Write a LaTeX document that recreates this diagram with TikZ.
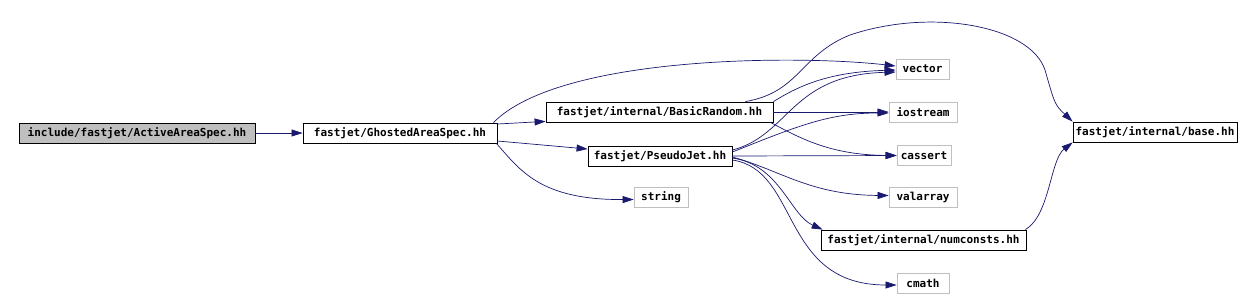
\documentclass[tikz,border=0pt]{standalone}
\usepackage{fontspec}
\setmonofont{DejaVu Sans Mono}
\usetikzlibrary{arrows.meta}
\definecolor{edg}{HTML}{191970}
\definecolor{sysg}{HTML}{BFBFBF}
\tikzset{
  hdr/.style={draw=black,line width=0.8pt,minimum height=20pt,inner sep=1pt,font=\fontsize{11}{12}\ttfamily\bfseries},
  sys/.style={hdr,draw=sysg},
  root/.style={hdr,fill=sysg},
  ar/.style={-{Triangle[length=11pt,width=7pt]},line width=0.7pt,draw=edg},
}
\begin{document}
\begin{tikzpicture}[x=1pt,y=-1pt]
  \useasboundingbox[fill=white] (0,0) rectangle (1252,298);
  \node[root, minimum width=236pt] (act) at (137,133) {include/fastjet/ActiveAreaSpec.hh};
  \node[hdr, minimum width=194pt] (gas) at (400,133) {fastjet/GhostedAreaSpec.hh};
  \node[hdr, minimum width=227pt] (brn) at (659.5,112) {fastjet/internal/BasicRandom.hh};
  \node[hdr, minimum width=144pt] (pj) at (660,156) {fastjet/PseudoJet.hh};
  \node[sys, minimum width=53pt] (vec) at (922.5,69) {vector};
  \node[sys, minimum width=68pt] (ios) at (923,112) {iostream};
  \node[sys, minimum width=54pt] (cas) at (924,155.5) {cassert};
  \node[sys, minimum width=68pt] (val) at (923,197.5) {valarray};
  \node[sys, minimum width=54pt] (str) at (661,197.5) {string};
  \node[hdr, minimum width=205pt] (nc) at (923.5,240) {fastjet/internal/numconsts.hh};
  \node[sys, minimum width=52pt] (cm) at (923,283) {cmath};
  \node[hdr, minimum width=164pt] (base) at (1155,132) {fastjet/internal/base.hh};

  \draw[ar] (act.east) -- (gas.west);
  \draw[ar] ([yshift=9pt]gas.east) -- ([yshift=1pt]brn.south west);
  \draw[ar] ([yshift=-8pt]gas.east) -- ([yshift=7pt]pj.west);
  \draw[ar] ([xshift=-4pt]gas.north east) .. controls (560,55) and (800,55) .. ([yshift=3pt]vec.west);
  \draw[ar] ([xshift=-1pt]gas.south east) .. controls (520,170) and (540,200) .. ([yshift=-2pt]str.west);
  \draw[ar] (brn.north east) .. controls (800,85) and (830,72) .. ([yshift=-1pt]vec.west);
  \draw[ar] (brn.east) -- (ios.west);
  \draw[ar] ([xshift=-3pt]brn.south east) .. controls (800,138) and (830,155) .. (cas.west);
  \draw[ar] ([xshift=-28pt]brn.north east) .. controls (800,92) and (800,55) .. (850,35)
    .. controls (930,8) and (1030,25) .. (1045,70) .. controls (1055,105) .. (base.north west);
  \draw[ar] ([yshift=6pt]pj.east) .. controls (790,135) and (790,75) .. ([yshift=-3pt]vec.west);
  \draw[ar] ([yshift=4pt]pj.east) .. controls (800,125) and (830,113) .. ([yshift=-1pt]ios.west);
  \draw[ar] (pj.east) -- (cas.west);
  \draw[ar] ([yshift=-1pt]pj.east) .. controls (780,170) and (810,195) .. ([yshift=2pt]val.west);
  \draw[ar] ([yshift=-2pt]pj.east) .. controls (780,165) and (790,215) .. ([xshift=2pt]nc.north west);
  \draw[ar] ([yshift=-4pt]pj.east) .. controls (800,170) and (780,285) .. ([yshift=-2pt]cm.west);
  \draw[ar] ([xshift=-1pt]nc.north east) .. controls (1050,215) and (1050,160) .. (base.south west);
\end{tikzpicture}
\end{document}
